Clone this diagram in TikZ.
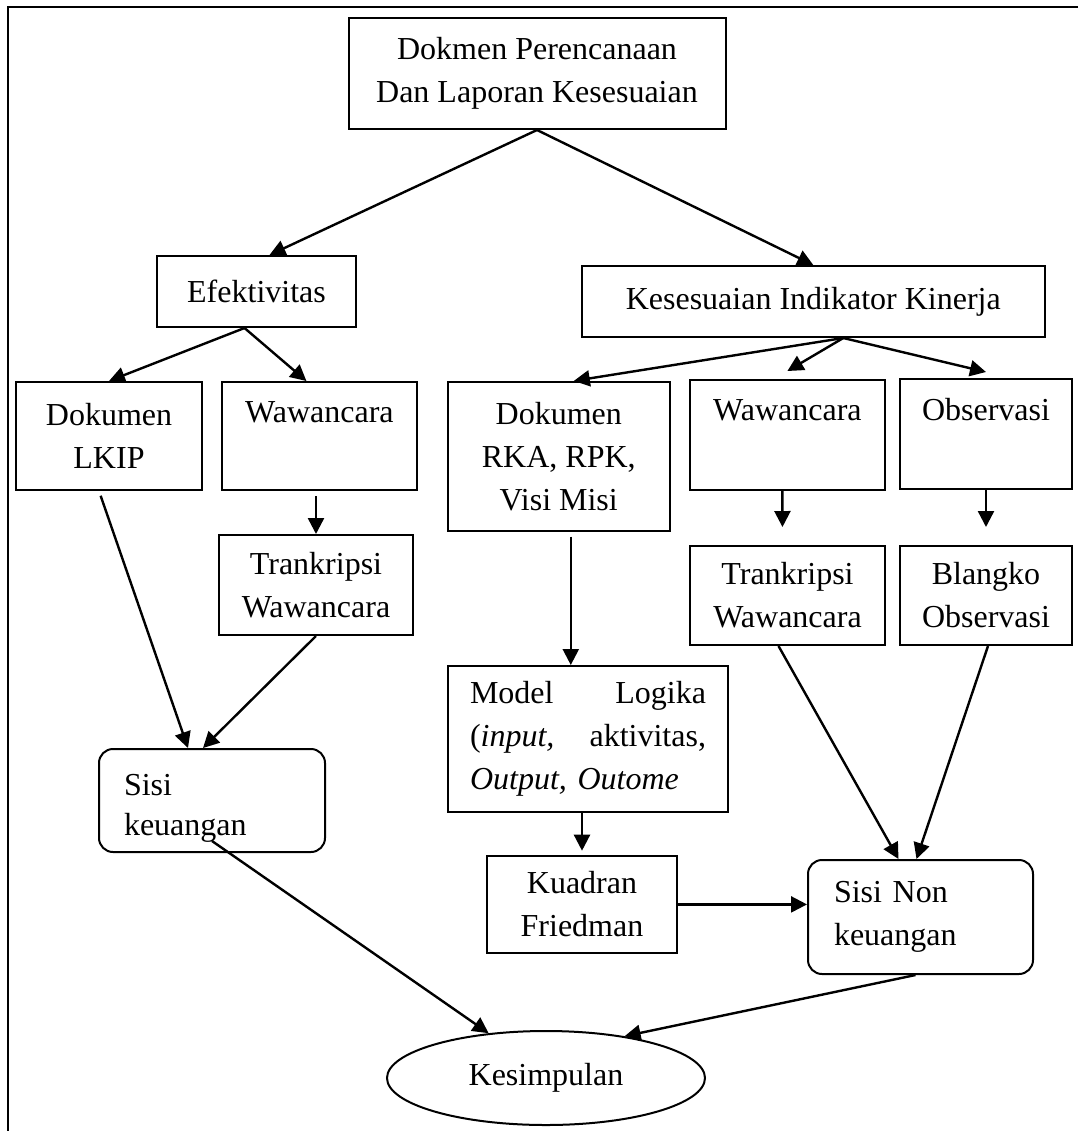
\documentclass[tikz,border=0pt]{standalone}
\usepackage{fontspec}
\setmainfont{Liberation Serif}
\usetikzlibrary{arrows.meta,shapes.geometric}

\begin{document}
\begin{tikzpicture}[x=0.5pt,y=-0.5pt,
	box/.style={draw, line width=1pt, inner sep=0pt, align=center, font=\fontsize{16}{21.5}\selectfont},
	sisibox/.style={box, rounded corners=7pt, align=left},
	arr/.style={line width=1.2pt, -{Triangle[length=8pt,width=8pt]}}]
	\useasboundingbox (0,0) rectangle (1078,1131);
	\draw[line width=1pt] (1078,6.5) -- (7.5,6.5) -- (7.5,1131);

	\node[box, minimum width=188.5pt, minimum height=55.5pt] (dok) at (537,73.5) {Dokmen Perencanaan\\Dan Laporan Kesesuaian};
	\node[box, minimum width=99.5pt, minimum height=35.5pt] (efek) at (256.5,291.5) {Efektivitas};
	\node[box, minimum width=231.7pt, minimum height=35.5pt] (kes) at (813.3,301.5) {Kesesuaian Indikator Kinerja};

	\node[box, minimum width=93pt, minimum height=54pt] (lkip) at (109,436) {Dokumen\\LKIP};
	\node[box, minimum width=97.4pt, text height=20pt, text depth=34pt] (waw1) at (319.4,436) {Wawancara};
	\node[box, minimum width=97pt, minimum height=50pt] (trans1) at (316,585) {Trankripsi\\Wawancara};
	\node[sisibox, minimum width=113pt, text width=88pt, text height=23pt, text depth=28.5pt, font=\fontsize{16}{20}\selectfont] (sisi) at (212,800.5) {Sisi\\keuangan};

	\node[box, minimum width=110.9pt, minimum height=74.4pt] (rka) at (558.8,456.3) {Dokumen\\RKA, RPK,\\Visi Misi};
	\node[box, minimum width=97.7pt, text height=20pt, text depth=35pt] (waw2) at (787.4,435) {Wawancara};
	\node[box, minimum width=86pt, text height=20.5pt, text depth=34.5pt] (obs) at (986,434) {Observasi};
	\node[box, minimum width=97.5pt, minimum height=49.5pt] (trans2) at (787.5,595.5) {Trankripsi\\Wawancara};
	\node[box, minimum width=86pt, minimum height=49.5pt] (blangko) at (986,595.5) {Blangko\\Observasi};
	\node[box, minimum width=140pt, minimum height=73pt, text width=118pt, align=left] (model) at (588,739) {Model \hfill Logika\\(\textit{input,} \hfill aktivitas,\\\textit{Output, Outome}};
	\node[box, minimum width=94.8pt, minimum height=48.7pt] (kuad) at (582,904.4) {Kuadran\\Friedman};
	\node[sisibox, minimum width=112.5pt, minimum height=57pt, text width=86.5pt] (nonk) at (920.5,917) {Sisi Non\\keuangan};

	\node[box, ellipse, minimum width=159pt, minimum height=47pt] (kesim) at (546,1078) {Kesimpulan};

	\draw[arr] (dok.south) -- ([xshift=6.5pt]efek.north);
	\draw[arr] (dok.south) -- (kes.north);

	\draw[arr] ([xshift=-6pt]efek.south) -- (lkip.north);
	\draw[arr] ([xshift=-6pt]efek.south) -- ([xshift=-6.5pt]waw1.north);
	\draw[arr] ([xshift=15pt]kes.south) -- ([xshift=7.5pt]rka.north);
	\draw[arr] ([xshift=15pt]kes.south) -- ([yshift=4pt]waw2.north);
	\draw[arr] ([xshift=15pt]kes.south) -- ([yshift=3pt]obs.north);

	\draw[arr, shorten <=2.5pt] (trans1.north |- waw1.south) -- (trans1.north);
	\draw[arr, shorten <=2.5pt] ([xshift=-5pt]lkip.south) -- ([xshift=-12pt]sisi.north);
	\draw[arr] (trans1.south) -- ([xshift=-4.5pt]sisi.north);

	\draw[arr, shorten <=2.5pt] ([xshift=6pt]rka.south) -- ([xshift=6pt]rka.south |- model.north);
	\draw[arr, shorten >=9pt] ([xshift=-2.5pt]waw2.south) -- ([xshift=-2.5pt]trans2.north);
	\draw[arr, shorten >=9pt] (obs.south) -- (blangko.north);
	\draw[arr, shorten >=2pt] (kuad.north |- model.south) -- (kuad.north);
	\draw[arr] ([xshift=-4.5pt]trans2.south) -- ([xshift=-11pt]nonk.north);
	\draw[arr] ([xshift=1pt]blangko.south) -- ([xshift=-2pt]nonk.north);
	\draw[arr] (kuad.east) -- (kuad.east -| nonk.west);

	\draw[arr] ([yshift=6pt]sisi.south) -- (kesim.142);
	\draw[arr] ([xshift=-2.5pt]nonk.south) -- (kesim.28);
\end{tikzpicture}
\end{document}
